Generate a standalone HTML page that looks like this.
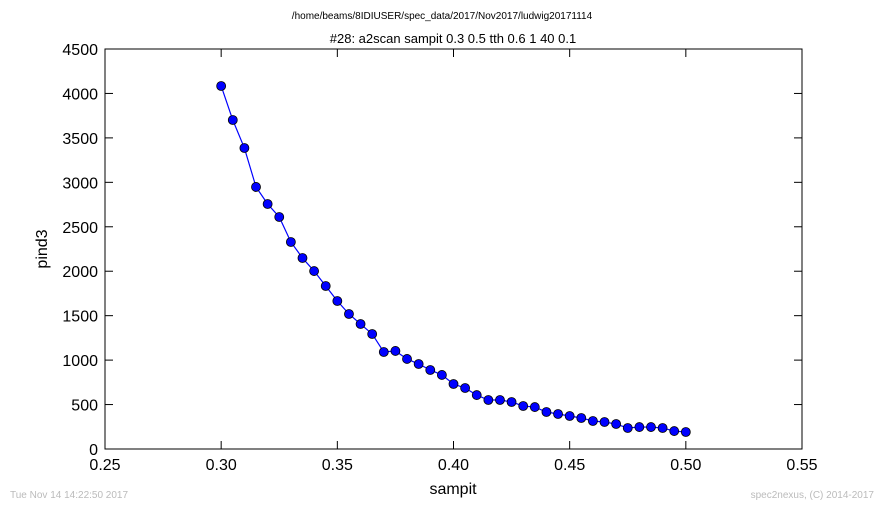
<!DOCTYPE html>
<html><head><meta charset="utf-8"><style>
body{margin:0;background:#fff;}
svg text{font-family:"Liberation Sans",sans-serif;}
</style></head><body>
<svg id="chart" width="884" height="509" xmlns="http://www.w3.org/2000/svg">
<text x="442" y="19" font-size="10" text-anchor="middle">/home/beams/8IDIUSER/spec_data/2017/Nov2017/ludwig20171114</text>
<text x="453" y="43" font-size="13" text-anchor="middle">#28: a2scan  sampit 0.3 0.5  tth 0.6 1  40 0.1</text>
<rect x="105" y="49" width="697" height="400" fill="none" stroke="#000" stroke-width="1"/>
<g id="xticks"></g><g id="yticks"></g>
<polyline id="line" fill="none" stroke="#0000ff" stroke-width="1.2"/>
<g id="pts"></g>
<text x="453" y="494" font-size="16" text-anchor="middle">sampit</text>
<text x="47" y="249" font-size="16" text-anchor="middle" transform="rotate(-90 47 249)">pind3</text>
<text x="10" y="498" font-size="10" fill="#bbb">Tue Nov 14 14:22:50 2017</text>
<text x="874" y="498" font-size="10" fill="#bbb" text-anchor="end">spec2nexus, (C) 2014-2017</text>
</svg>
<script>
const xs=[0.300,0.305,0.310,0.315,0.320,0.325,0.330,0.335,0.340,0.345,0.350,0.355,0.360,0.365,0.370,0.375,0.380,0.385,0.390,0.395,0.400,0.405,0.410,0.415,0.420,0.425,0.430,0.435,0.440,0.445,0.450,0.455,0.460,0.465,0.470,0.475,0.480,0.485,0.490,0.495,0.500];
const ys=[4084,3701,3386,2948,2756,2610,2329,2149,2002,1834,1665,1519,1406,1294,1091,1103,1013,956,889,833,731,686,607,551,551,529,484,472,416,394,371,349,315,304,281,236,247,247,236,202,191];
const xTicks=[0.25,0.30,0.35,0.40,0.45,0.50,0.55];
const yTicks=[0,500,1000,1500,2000,2500,3000,3500,4000,4500];
const NS="http://www.w3.org/2000/svg";
function X(v){return 105+(v-0.25)/0.30*697;}
function Y(v){return 449-v/4500*400;}
const xt=document.getElementById('xticks'),yt=document.getElementById('yticks');
xTicks.forEach(t=>{
 const x=X(t);
 for(const [a,b] of [[449,441],[49,57]]){
  const l=document.createElementNS(NS,'line');
  l.setAttribute('x1',x);l.setAttribute('x2',x);l.setAttribute('y1',a);l.setAttribute('y2',b);l.setAttribute('stroke','#000');
  
  
  xt.appendChild(l);}
 const tx=document.createElementNS(NS,'text');
 tx.setAttribute('x',x);tx.setAttribute('y',470);tx.setAttribute('font-size','16');tx.setAttribute('text-anchor','middle');
 tx.textContent=t.toFixed(2);
 
 
 xt.appendChild(tx);
});
yTicks.forEach(t=>{
 const y=Y(t);
 for(const [a,b] of [[105,113],[802,794]]){
  const l=document.createElementNS(NS,'line');
  l.setAttribute('x1',a);l.setAttribute('x2',b);l.setAttribute('y1',y);l.setAttribute('y2',y);l.setAttribute('stroke','#000');
  
  
  yt.appendChild(l);}
 const tx=document.createElementNS(NS,'text');
 tx.setAttribute('x',98);tx.setAttribute('y',y+6);tx.setAttribute('font-size','16');tx.setAttribute('text-anchor','end');
 tx.textContent=t;
 
 
 yt.appendChild(tx);
});
document.getElementById('line').setAttribute('points',xs.map((x,i)=>X(x)+','+Y(ys[i])).join(' '));
const g=document.getElementById('pts');
xs.forEach((x,i)=>{
 const c=document.createElementNS(NS,'circle');
 c.setAttribute('cx',X(x));c.setAttribute('cy',Y(ys[i]));c.setAttribute('r',4.5);
 c.setAttribute('fill','#0000ff');c.setAttribute('stroke','#000');c.setAttribute('stroke-width','0.8');
 
 
 g.appendChild(c);
});
</script>
</body></html>
